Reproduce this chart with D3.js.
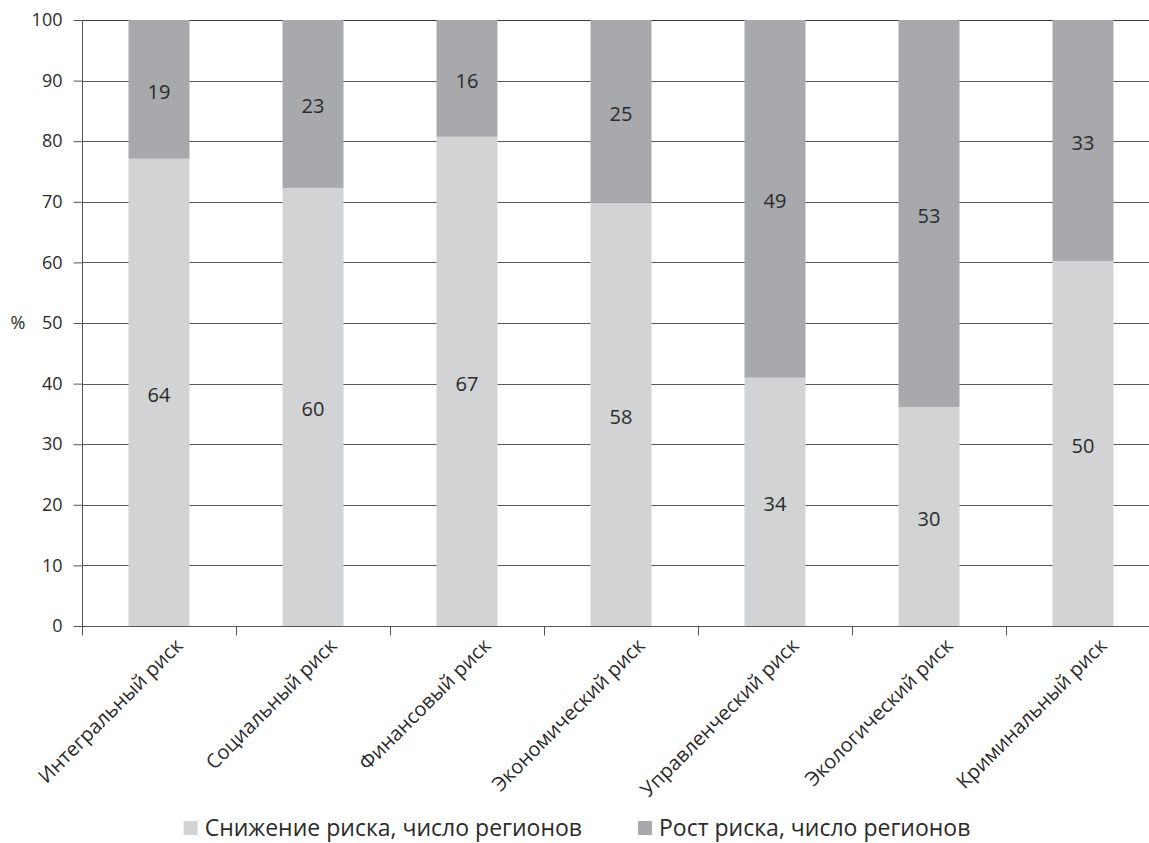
<!DOCTYPE html>
<html lang="ru">
<head>
<meta charset="utf-8">
<script src="https://cdn.jsdelivr.net/npm/d3@7"></script>
<style>
  html, body { margin: 0; padding: 0; background: #fff; }
  svg { display: block; font-family: "Open Sans", "Noto Sans", sans-serif; }
</style>
</head>
<body>
<svg id="chart" width="1149" height="843"></svg>
<script>
// Risk categories
const categories = [
  "Интегральный риск",
  "Социальный риск",
  "Финансовый риск",
  "Экономический риск",
  "Управленческий риск",
  "Экологический риск",
  "Криминальный риск"
];
// Number of regions where the risk went down / up
const decreaseCounts = [64, 60, 67, 58, 34, 30, 50];
const increaseCounts = [19, 23, 16, 25, 49, 53, 33];
const seriesNames = ["Снижение риска, число регионов", "Рост риска, число регионов"];
const yTicks = [0, 10, 20, 30, 40, 50, 60, 70, 80, 90, 100];

const colors = ["#d1d3d4", "#a7a9ac"];

const svg = d3.select("#chart");
const margin = { left: 82, top: 20, bottom: 626 };
const plotRight = 1160;

const x = d3.scaleBand().domain(categories).range([margin.left, plotRight]).padding(0);
const y = d3.scaleLinear().domain([0, 100]).range([margin.bottom, margin.top]);
const barW = x.bandwidth() * 0.396;

// rows normalised to 100 %
const rows = categories.map((c, i) => {
  const total = decreaseCounts[i] + increaseCounts[i];
  return { cat: c, dec: decreaseCounts[i], inc: increaseCounts[i],
           decPct: decreaseCounts[i] / total * 100, incPct: increaseCounts[i] / total * 100 };
});

// horizontal gridlines
svg.append("g")
  .selectAll("line")
  .data(yTicks.filter(d => d > 0))
  .join("line")
  .attr("x1", margin.left).attr("x2", 1149)
  .attr("y1", d => Math.round(y(d)) + 0.5).attr("y2", d => Math.round(y(d)) + 0.5)
  .attr("stroke", d => d === 100 ? "#3a3a3a" : "#5a5a5a")
  .attr("stroke-width", 1);

// stacked bars
const bars = svg.append("g");
rows.forEach(r => {
  const cx = x(r.cat) + x.bandwidth() / 2;
  bars.append("rect")
    .attr("x", cx - barW / 2).attr("width", barW)
    .attr("y", y(r.decPct)).attr("height", y(0) - y(r.decPct))
    .attr("fill", colors[0]);
  bars.append("rect")
    .attr("x", cx - barW / 2).attr("width", barW)
    .attr("y", y(100)).attr("height", y(r.decPct) - y(100))
    .attr("fill", colors[1]);
});

// value labels
const labels = svg.append("g")
  .attr("font-size", 20).attr("fill", "#2b2b2b").attr("text-anchor", "middle");
rows.forEach(r => {
  const cx = x(r.cat) + x.bandwidth() / 2;
  labels.append("text").attr("x", cx).attr("y", y(r.decPct / 2)).attr("dy", "0.47em").text(r.dec);
  labels.append("text").attr("x", cx).attr("y", y(r.decPct + r.incPct / 2)).attr("dy", "0.47em").text(r.inc);
});

// y axis
const yAxis = svg.append("g")
  .attr("transform", `translate(${margin.left + 0.5},0)`)
  .call(d3.axisLeft(y).tickValues(yTicks).tickSize(9).tickPadding(11));
yAxis.select(".domain").attr("stroke", "#555").attr("d", `M0,${y(100)}V${y(0)}`);
yAxis.selectAll(".tick line").attr("stroke", "#555");
yAxis.selectAll(".tick text").attr("font-size", 18).attr("fill", "#2b2b2b")
  .attr("font-family", "'Open Sans', sans-serif");

// x axis
const xAxis = svg.append("g")
  .attr("transform", `translate(0,${Math.round(y(0)) + 0.5})`);
xAxis.append("line").attr("x1", margin.left).attr("x2", 1149).attr("stroke", "#555");
const tickXs = d3.range(categories.length + 1).map(i => margin.left + i * x.step());
xAxis.selectAll(".xtick").data(tickXs).join("line")
  .attr("class", "xtick")
  .attr("x1", d => Math.round(d) + 0.5).attr("x2", d => Math.round(d) + 0.5)
  .attr("y1", 0).attr("y2", 9).attr("stroke", "#555");

// category labels rotated 45°
svg.append("g").selectAll("text").data(categories).join("text")
  .attr("transform", d => `translate(${x(d) + x.bandwidth() / 2 + 20},${y(0) + 16}) rotate(-45)`)
  .attr("text-anchor", "end").attr("dy", "0.35em")
  .attr("font-size", 20).attr("fill", "#2b2b2b")
  .text(d => d);

// unit label
svg.append("text").attr("x", 18).attr("y", y(50)).attr("dy", "0.35em")
  .attr("text-anchor", "middle").attr("font-size", 18).attr("fill", "#2b2b2b").text("%");

// legend
const legend = svg.append("g").attr("font-size", 23).attr("fill", "#2b2b2b");
const items = legend.selectAll("g").data(seriesNames).join("g");
items.append("rect").attr("width", 14).attr("height", 14).attr("y", -15)
  .attr("fill", (d, i) => colors[i]);
items.append("text").attr("x", 21).attr("y", 0).text(d => d);
const gap = 56;
const widths = items.nodes().map(n => n.getBBox().width);
const total = d3.sum(widths) + gap * (widths.length - 1);
let off = 577 - total / 2;
items.attr("transform", (d, i) => {
  const t = `translate(${off},836)`;
  off += widths[i] + gap;
  return t;
});
</script>
</body>
</html>
